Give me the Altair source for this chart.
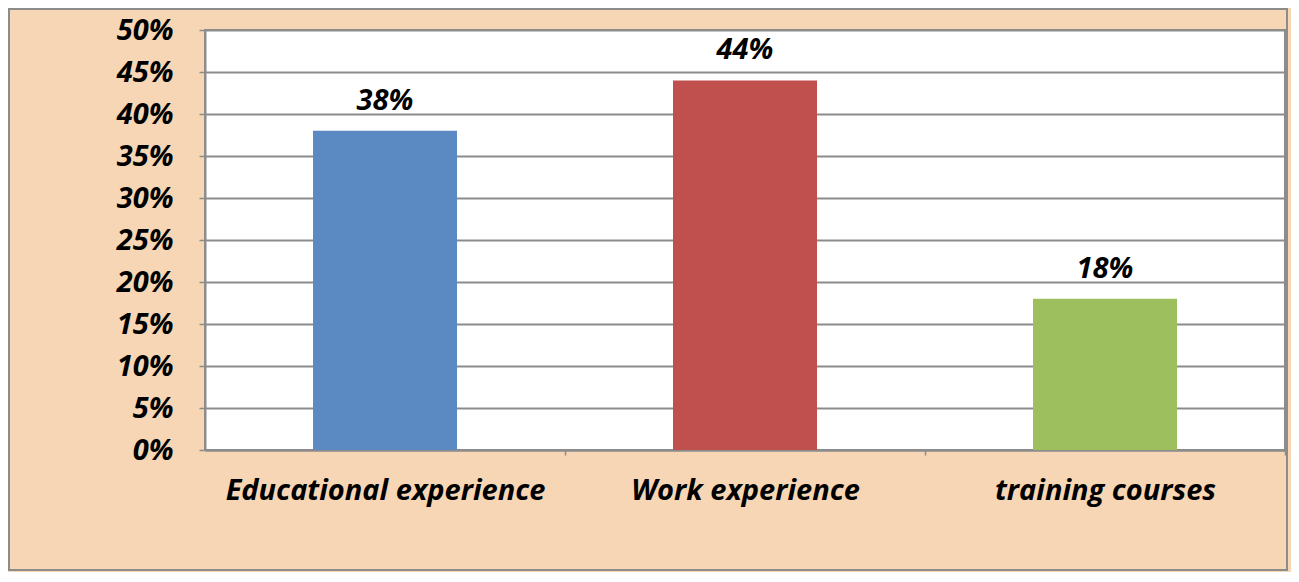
import altair as alt
import pandas as pd

categories = ["Educational experience", "Work experience", "training courses"]
values = [0.38, 0.44, 0.18]
colors = ["#5B89C2", "#C0504D", "#9EBF5E"]
y_ticks = [0, 0.05, 0.10, 0.15, 0.20, 0.25, 0.30, 0.35, 0.40, 0.45, 0.50]

df = pd.DataFrame({"category": categories, "value": values, "color": colors})

FONT = "Open Sans"
FS = 29
W, H = 1080, 420
STEP = W / 3

x_enc = alt.X(
    "category:N",
    sort=categories,
    scale=alt.Scale(paddingInner=0.6, paddingOuter=0.3),
    axis=alt.Axis(
        title=None, labelAngle=0, labelFont=FONT, labelFontSize=FS,
        labelFontWeight="bold", labelFontStyle="italic", labelColor="#000000",
        labelLimit=0, labelPadding=21, tickOffset=STEP / 2, labelOffset=-STEP / 2,
        tickSize=5, tickColor="#8C8C8C", domainColor="#8C8C8C", domainWidth=2,
        tickWidth=1.5, grid=False,
    ),
)
y_enc = alt.Y(
    "value:Q",
    scale=alt.Scale(domain=[0, 0.5], nice=False),
    axis=alt.Axis(
        title=None, values=y_ticks, format=".0%", labelFont=FONT, labelFontSize=FS,
        labelFontWeight="bold", labelFontStyle="italic", labelColor="#000000",
        labelPadding=26, tickSize=6, tickColor="#8C8C8C", tickWidth=1.5,
        domainColor="#8C8C8C", domainWidth=2, grid=True, gridColor="#8C8C8C",
        gridWidth=2, gridOpacity=1,
    ),
)

border = alt.Chart(pd.DataFrame({"a": [0]})).mark_rect(
    fill=None, stroke="#8C8C8C", strokeWidth=2, clip=False
).encode(
    x=alt.value(-196), x2=alt.value(W + 2), y=alt.value(-21), y2=alt.value(H + 120)
)

bars = alt.Chart(df).mark_bar().encode(
    x=x_enc, y=y_enc, color=alt.Color("color:N", scale=None)
)

labels = alt.Chart(df).mark_text(
    font=FONT, fontSize=FS, fontWeight="bold", fontStyle="italic",
    color="#000000", baseline="alphabetic", dy=-21,
).encode(
    x=alt.X("category:N", sort=categories), y=alt.Y("value:Q"),
    text=alt.Text("value:Q", format=".0%"),
)

chart = alt.layer(border, bars, labels).properties(
    width=W, height=H,
    autosize=alt.AutoSizeParams(type="none"),
    padding={"left": 197, "top": 22, "right": 6, "bottom": 122},
).configure(background="#F6D6B4").configure_view(
    fill="#FFFFFF", stroke="#8C8C8C", strokeWidth=2
)

chart.save("out.html", embed_options={"renderer": "svg", "actions": False})
